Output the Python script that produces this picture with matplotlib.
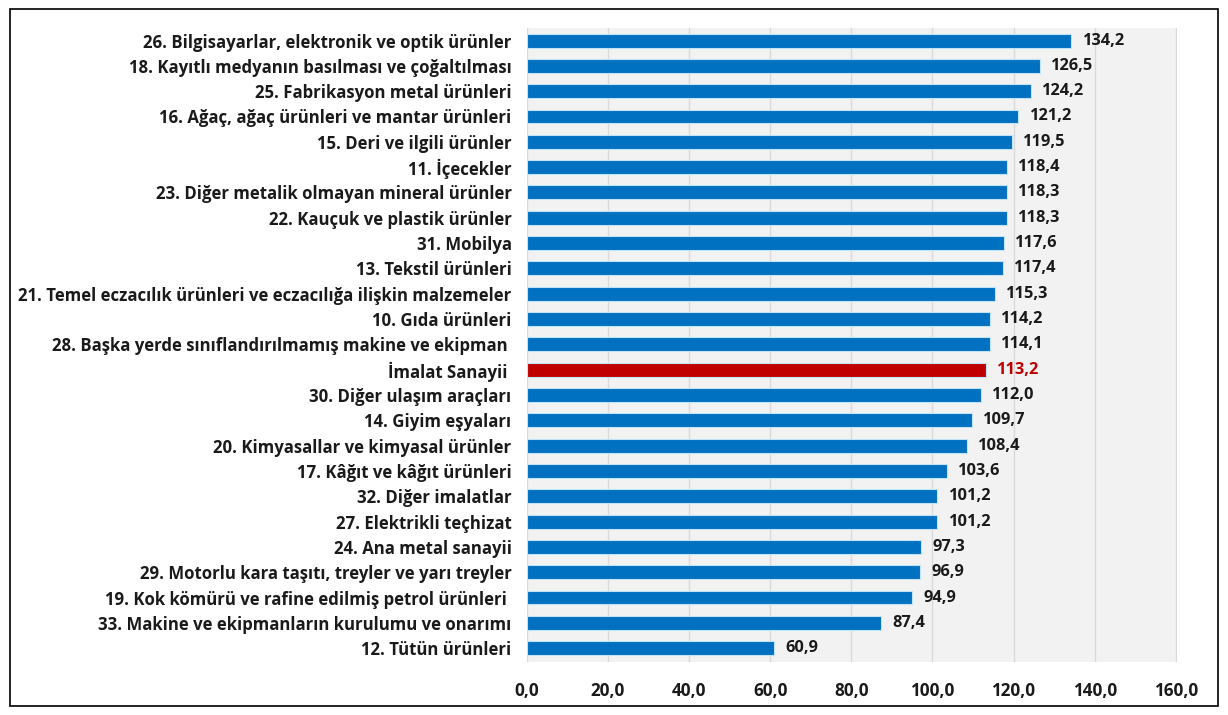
import matplotlib
matplotlib.use("Agg")
import matplotlib.pyplot as plt
from matplotlib.patches import Rectangle

plt.rcParams['font.family'] = ['Open Sans', 'DejaVu Sans']

## Daten
sektorler = [
    "26. Bilgisayarlar, elektronik ve optik ürünler",
    "18. Kayıtlı medyanın basılması ve çoğaltılması",
    "25. Fabrikasyon metal ürünleri",
    "16. Ağaç, ağaç ürünleri ve mantar ürünleri",
    "15. Deri ve ilgili ürünler",
    "11. İçecekler",
    "23. Diğer metalik olmayan mineral ürünler",
    "22. Kauçuk ve plastik ürünler",
    "31. Mobilya",
    "13. Tekstil ürünleri",
    "21. Temel eczacılık ürünleri ve eczacılığa ilişkin malzemeler",
    "10. Gıda ürünleri",
    "28. Başka yerde sınıflandırılmamış makine ve ekipman ",
    "İmalat Sanayii ",
    "30. Diğer ulaşım araçları",
    "14. Giyim eşyaları",
    "20. Kimyasallar ve kimyasal ürünler",
    "17. Kâğıt ve kâğıt ürünleri",
    "32. Diğer imalatlar",
    "27. Elektrikli teçhizat",
    "24. Ana metal sanayii",
    "29. Motorlu kara taşıtı, treyler ve yarı treyler",
    "19. Kok kömürü ve rafine edilmiş petrol ürünleri ",
    "33. Makine ve ekipmanların kurulumu ve onarımı",
    "12. Tütün ürünleri",
]
degerler = [134.2, 126.5, 124.2, 121.2, 119.5, 118.4, 118.3, 118.3, 117.6, 117.4,
            115.3, 114.2, 114.1, 113.2, 112.0, 109.7, 108.4, 103.6, 101.2, 101.2,
            97.3, 96.9, 94.9, 87.4, 60.9]
xticks = [0, 20, 40, 60, 80, 100, 120, 140, 160]

blau = "#0070c0"
rot = "#c00000"
farben = [rot if s.startswith("İmalat") else blau for s in sektorler]

fig = plt.figure(figsize=(12.28, 7.15), dpi=100)
ax = fig.add_axes([0.429, 0.074, 0.5295, 0.887])
ax.set_facecolor("#f2f2f2")

y = list(range(len(sektorler)))
ax.barh(y, degerler, height=0.55, color=farben, edgecolor="#bfe3f7", linewidth=0.8, zorder=3)

for i, v in enumerate(degerler):
    c = rot if farben[i] == rot else "#1a1a1a"
    ax.text(v + 2.8, i, f"{v:.1f}".replace(".", ","), va="center", ha="left",
            fontsize=11.8, fontweight="bold", color=c, zorder=4)

ax.set_ylim(24.55, -0.5)
ax.set_xlim(0, 160.3)
ax.set_yticks(y)
ax.set_yticklabels(sektorler, fontsize=12.1, fontweight="bold", color="#1a1a1a")
ax.set_xticks(xticks)
ax.set_xticklabels([f"{t:.1f}".replace(".", ",") for t in xticks], fontsize=12.3,
                   fontweight="bold", color="#1a1a1a")
ax.tick_params(axis="both", length=0)
ax.tick_params(axis="y", pad=11)
ax.tick_params(axis="x", pad=14)
ax.grid(axis="x", color="#d9d9d9", linewidth=1, zorder=0)
for s in ax.spines.values():
    s.set_visible(False)

# Rahmen
fig.patches.append(Rectangle((0.008, 0.013), 0.984, 0.975, transform=fig.transFigure,
                             fill=False, edgecolor="black", linewidth=1.2))

fig.savefig("out.png", dpi=100)
